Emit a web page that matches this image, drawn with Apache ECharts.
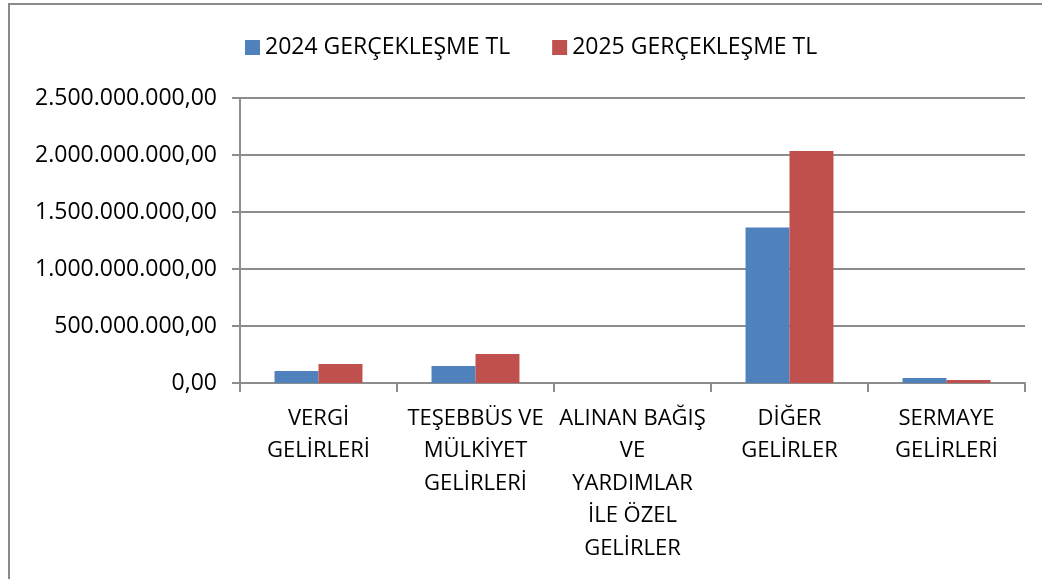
<!DOCTYPE html>
<html>
<head>
<meta charset="utf-8">
<script src="https://cdn.jsdelivr.net/npm/echarts@6/dist/echarts.min.js"></script>
<style>
  html, body { margin: 0; padding: 0; background: #fff; }
  #chart { width: 1042px; height: 579px; }
</style>
</head>
<body>
<div id="chart"></div>
<script>
// kategoriler
var categories = [
  'VERGİ\nGELİRLERİ',
  'TEŞEBBÜS VE\nMÜLKİYET\nGELİRLERİ',
  'ALINAN BAĞIŞ\nVE\nYARDIMLAR\nİLE ÖZEL\nGELİRLER',
  'DİĞER\nGELİRLER',
  'SERMAYE\nGELİRLERİ'
]
var seriesNames = ['2024 GERÇEKLEŞME TL', '2025 GERÇEKLEŞME TL']
var values2024 = [105000000, 149000000, 200000, 1365000000, 44000000]
var values2025 = [167000000, 254000000, 300000, 2035000000, 26000000]
var yTicks = [0, 500000000, 1000000000, 1500000000, 2000000000, 2500000000]

var FONT = '"Open Sans", sans-serif'
var GRID_COLOR = '#8c8c8c'

// 2.500.000.000,00 formati
function formatTL(v) {
  var s = Math.round(v).toString()
  var out = ''
  while (s.length > 3) {
    out = '.' + s.slice(-3) + out
    s = s.slice(0, -3)
  }
  return s + out + ',00'
}

var chart = echarts.init(document.getElementById('chart'))
chart.setOption({
  animation: false,
  textStyle: { fontFamily: FONT },
  graphic: [
    {
      type: 'rect',
      shape: { x: 9, y: 4, width: 1200, height: 800 },
      style: { fill: 'none', stroke: '#8a8a8a', lineWidth: 2 },
      silent: true
    }
  ],
  legend: {
    left: 240,
    top: 31,
    itemWidth: 15,
    itemHeight: 15,
    itemGap: 42,
    icon: 'rect',
    textStyle: { fontFamily: FONT, fontSize: 23, color: '#000' },
    data: seriesNames
  },
  grid: {
    left: 240,
    right: 17,
    top: 98,
    bottom: 196,
    containLabel: false
  },
  xAxis: {
    type: 'category',
    data: categories,
    axisLine: { lineStyle: { color: GRID_COLOR, width: 2 } },
    axisTick: { show: true, length: 9, lineStyle: { color: GRID_COLOR, width: 2 } },
    axisLabel: {
      interval: 0,
      margin: 19,
      fontFamily: FONT,
      fontSize: 22,
      lineHeight: 32.5,
      color: '#000',
      align: 'center'
    }
  },
  yAxis: {
    type: 'value',
    min: yTicks[0],
    max: yTicks[yTicks.length - 1],
    interval: 500000000,
    axisLine: { show: true, lineStyle: { color: GRID_COLOR, width: 2 } },
    axisTick: { show: true, length: 8, lineStyle: { color: GRID_COLOR, width: 2 } },
    splitLine: { show: true, lineStyle: { color: GRID_COLOR, width: 2 } },
    axisLabel: {
      margin: 23,
      fontFamily: FONT,
      fontSize: 23,
      color: '#000',
      formatter: formatTL
    }
  },
  series: [
    {
      name: seriesNames[0],
      type: 'bar',
      data: values2024,
      barGap: '0%',
      barCategoryGap: '44%',
      itemStyle: { color: '#4f81bd' }
    },
    {
      name: seriesNames[1],
      type: 'bar',
      data: values2025,
      barGap: '0%',
      barCategoryGap: '44%',
      itemStyle: { color: '#c0504d' }
    }
  ]
})
</script>
</body>
</html>
